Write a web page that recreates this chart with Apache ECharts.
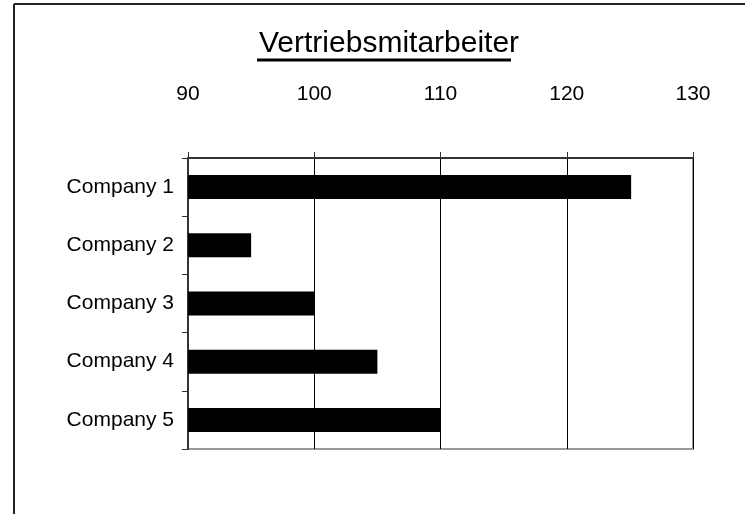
<!DOCTYPE html>
<html>
<head>
<meta charset="utf-8">
<script src="https://cdn.jsdelivr.net/npm/echarts@6/dist/echarts.min.js"></script>
<style>html,body{margin:0;padding:0;background:#fff}#c{width:745px;height:514px}</style>
</head>
<body>
<div id="c"></div>
<script>
const titleText = 'Vertriebsmitarbeiter';
const categories = ['Company 1', 'Company 2', 'Company 3', 'Company 4', 'Company 5'];
const values = [125.1, 95, 100, 105, 110];
const axisMin = 90, axisMax = 130, axisStep = 10;

const chart = echarts.init(document.getElementById('c'), null, {renderer: 'canvas'});
const font = '"Liberation Sans", Arial, sans-serif';
chart.setOption({
  animation: false,
  backgroundColor: '#fff',
  title: {
    text: titleText, left: 254, top: 24,
    textStyle: {fontFamily: font, fontSize: 30, fontWeight: 'normal', color: '#000'}
  },
  graphic: [
    {type: 'line', shape: {x1: 14, y1: 4, x2: 14, y2: 514}, style: {stroke: '#222', lineWidth: 2}},
    {type: 'line', shape: {x1: 14, y1: 4, x2: 745, y2: 4}, style: {stroke: '#222', lineWidth: 2}},
    {type: 'line', shape: {x1: 257, y1: 60, x2: 511, y2: 60}, style: {stroke: '#000', lineWidth: 3}}
  ],
  grid: {left: 188, right: 52, top: 158, bottom: 65, show: true, borderColor: '#999', borderWidth: 2, backgroundColor: 'transparent'},
  xAxis: {
    type: 'value', position: 'top', min: axisMin, max: axisMax, interval: axisStep,
    axisLine: {show: true, lineStyle: {color: '#333', width: 2}},
    axisTick: {show: true, inside: false, length: 6, lineStyle: {color: '#333'}},
    axisLabel: {fontFamily: font, fontSize: 21, color: '#000', margin: 53},
    splitLine: {show: true, lineStyle: {color: '#000', width: 1}}
  },
  yAxis: {
    type: 'category', data: categories, inverse: true,
    axisLine: {show: true, lineStyle: {color: '#333', width: 2}},
    axisTick: {show: true, length: 6, lineStyle: {color: '#333'}},
    axisLabel: {fontFamily: font, fontSize: 21, color: '#000', margin: 14}
  },
  series: [{
    type: 'bar', data: values, barWidth: 24,
    itemStyle: {color: '#000'}
  }]
});
</script>
</body>
</html>
